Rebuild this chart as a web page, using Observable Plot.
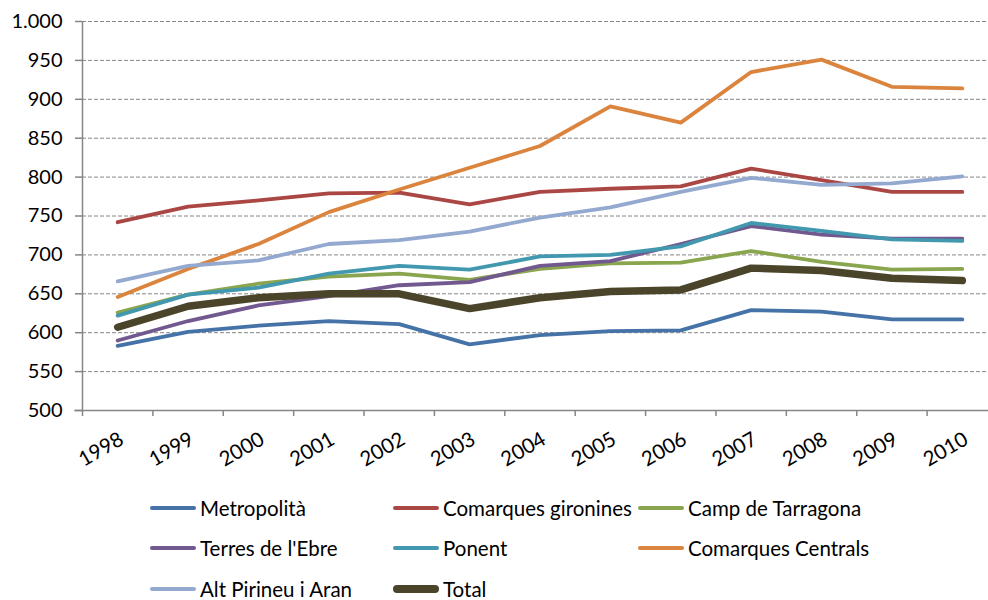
<!DOCTYPE html>
<html>
<head>
<meta charset="utf-8">
<script src="https://cdn.jsdelivr.net/npm/d3@7"></script>
<script src="https://cdn.jsdelivr.net/npm/@observablehq/plot@0.6"></script>
<style>
  html, body { margin: 0; padding: 0; background: #fff; }
  #wrap { position: relative; width: 988px; height: 600px; overflow: hidden; font-family: Lato, "Open Sans", sans-serif; }
  #legend { position: absolute; left: 0; top: 0; width: 988px; height: 600px; pointer-events: none; }
  .item { position: absolute; display: flex; align-items: center; font-size: 20.5px; color: #000; white-space: nowrap; transform: translateY(-50%); }
  .sw { display: inline-block; width: 46px; border-radius: 4px; margin-right: 4px; }
</style>
</head>
<body>
<div id="wrap"><div id="chart"></div><div id="legend"></div></div>
<script>
const years = [1998, 1999, 2000, 2001, 2002, 2003, 2004, 2005, 2006, 2007, 2008, 2009, 2010];
const metropolita      = [583, 601, 609, 615, 611, 585, 597, 602, 603, 629, 627, 617, 617];
const gironines        = [742, 762, 770, 779, 780, 765, 781, 785, 788, 811, 796, 781, 781];
const campTarragona    = [626, 649, 663, 672, 676, 668, 682, 689, 690, 705, 691, 681, 682];
const terresEbre       = [590, 615, 635, 647, 661, 665, 686, 692, 714, 737, 726, 721, 721];
const ponent           = [622, 649, 658, 676, 686, 681, 698, 700, 711, 741, 731, 720, 718];
const comarquesCentrals= [646, 682, 714, 755, 784, 812, 840, 891, 870, 935, 951, 916, 914];
const altPirineu       = [666, 686, 693, 714, 719, 730, 748, 761, 781, 799, 790, 792, 801];
const total            = [607, 634, 645, 650, 650, 631, 645, 653, 655, 683, 680, 670, 667];

const seriesNames = ["Metropolità", "Comarques gironines", "Camp de Tarragona", "Terres de l'Ebre", "Ponent", "Comarques Centrals", "Alt Pirineu i Aran", "Total"];
const seriesValues = [metropolita, gironines, campTarragona, terresEbre, ponent, comarquesCentrals, altPirineu, total];
const seriesColors = ["#4572A7", "#AA4643", "#89A54E", "#71588F", "#4198AF", "#DB843D", "#93A9CF", "#4A452A"];
const yTicks = [500, 550, 600, 650, 700, 750, 800, 850, 900, 950, 1000];

const rows = [];
seriesNames.forEach((s, i) => seriesValues[i].forEach((v, j) => rows.push({series: s, year: years[j], value: v})));
const bounds = [years[0] - 0.5, ...years.map(y => y + 0.5)];
const fmt = d3.formatLocale({decimal: ",", thousands: ".", grouping: [3], currency: ["", "€"]}).format(",");

const gray = "#868686";
const chart = Plot.plot({
  width: 988,
  height: 470,
  marginLeft: 82,
  marginRight: -9,
  marginTop: 21,
  marginBottom: 60,
  style: {fontFamily: "Lato, 'Open Sans', sans-serif", background: "transparent", overflow: "visible"},
  x: {type: "linear", domain: [bounds[0], bounds[bounds.length - 1]]},
  y: {domain: [500, 1000]},
  color: {domain: seriesNames, range: seriesColors},
  marks: [
    Plot.ruleY(yTicks.filter(v => v > 500), {stroke: gray, strokeWidth: 1, strokeDasharray: "4,2"}),
    Plot.axisY(yTicks, {tickSize: 7, tickFormat: () => "", stroke: gray, strokeWidth: 1.5, label: null}),
    Plot.axisY(yTicks, {tickSize: 0, tickPadding: 20, tickFormat: fmt, fontSize: 20, fill: "#000", label: null}),
    Plot.axisX(bounds, {tickSize: 6, tickFormat: () => "", stroke: gray, strokeWidth: 1.5, label: null}),
    Plot.ruleX([bounds[0]], {y1: 500, y2: 1000, stroke: gray, strokeWidth: 1.5}),
    Plot.ruleY([500], {x1: bounds[0] - 0.11, x2: bounds[bounds.length - 1], stroke: gray, strokeWidth: 1.5}),
    Plot.text(years, {x: d => d, frameAnchor: "bottom", text: d => String(d), rotate: -30, textAnchor: "end", lineAnchor: "middle", dx: 4, dy: 27, fontSize: 20.5, fill: "#000"}),
    Plot.line(rows.filter(d => d.series !== "Total"), {x: "year", y: "value", z: "series", stroke: "series", strokeWidth: 3.8, strokeLinejoin: "round", strokeLinecap: "round"}),
    Plot.line(rows.filter(d => d.series === "Total"), {x: "year", y: "value", stroke: "series", strokeWidth: 7.5, strokeLinejoin: "round", strokeLinecap: "round"})
  ]
});
document.getElementById("chart").appendChild(chart);

// legend (3 columns)
const legendCols = [150, 393, 638];
const legendRows = [508, 548, 589];
const legend = document.getElementById("legend");
seriesNames.forEach((s, i) => {
  const div = document.createElement("div");
  div.className = "item";
  div.style.left = legendCols[i % 3] + "px";
  div.style.top = legendRows[Math.floor(i / 3)] + "px";
  const sw = document.createElement("span");
  sw.className = "sw";
  sw.style.background = seriesColors[i];
  sw.style.height = (s === "Total" ? 8 : 4) + "px";
  div.appendChild(sw);
  div.appendChild(document.createTextNode(s));
  legend.appendChild(div);
});
</script>
</body>
</html>
